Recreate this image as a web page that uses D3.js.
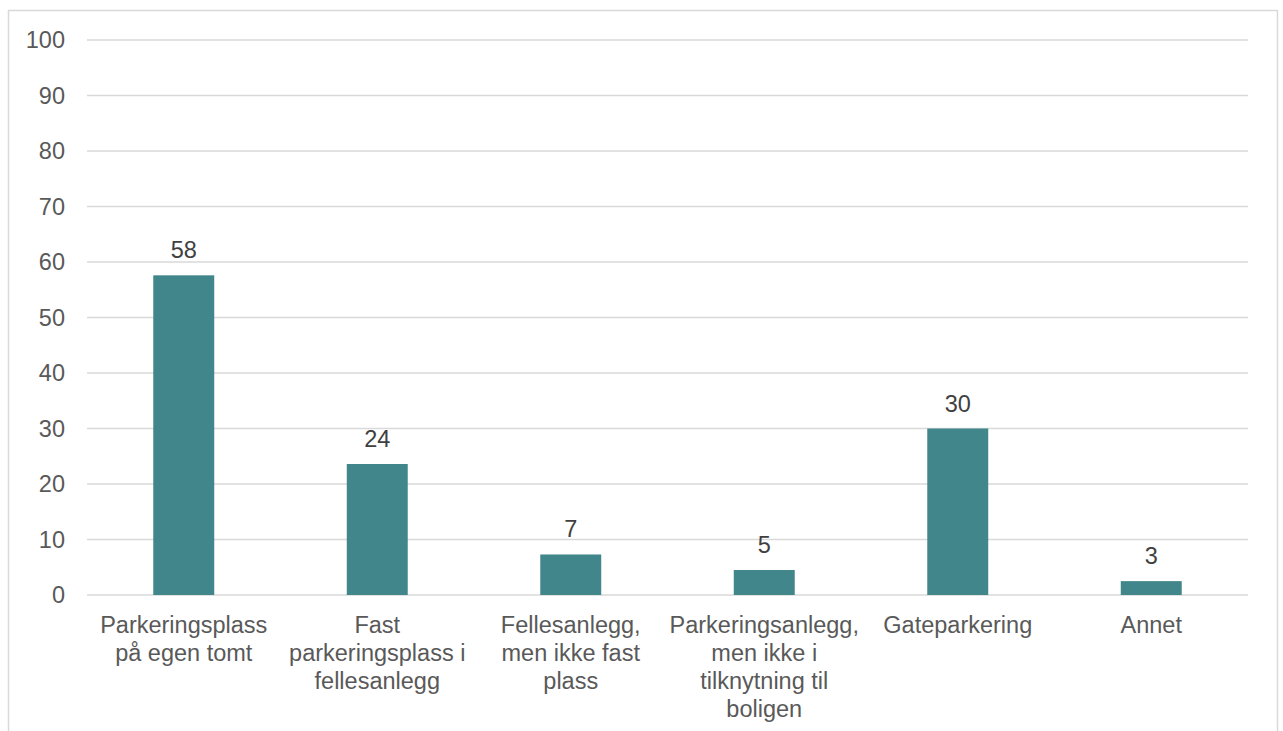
<!DOCTYPE html>
<html lang="no">

<head>
    <meta charset="UTF-8" />
    <title>Parkering</title>
    <style>
        body { margin: 0; background: #fff; }
        #container { width: 1283px; height: 731px; }
        text { font-family: "Liberation Sans", Arial, sans-serif; }
    </style>
</head>

<body>
    <div id="container"></div>
</body>
<script src="https://cdnjs.cloudflare.com/ajax/libs/d3/7.1.1/d3.min.js"></script>
<script>
    // data
    const categories = [
        ["Parkeringsplass", "på egen tomt"],
        ["Fast", "parkeringsplass i", "fellesanlegg"],
        ["Fellesanlegg,", "men ikke fast", "plass"],
        ["Parkeringsanlegg,", "men ikke i", "tilknytning til", "boligen"],
        ["Gateparkering"],
        ["Annet"]
    ];
    const values = [57.6, 23.6, 7.3, 4.5, 30.0, 2.5];
    const yTicks = [0, 10, 20, 30, 40, 50, 60, 70, 80, 90, 100];

    const W = 1283, H = 731;
    const m = { left: 87, right: 1248, top: 40, bottom: 595 };
    const fs = 23.5;

    const svg = d3.select("#container").append("svg").attr("width", W).attr("height", H);

    // frame
    svg.append("rect")
        .attr("x", 8.5).attr("y", 10.5)
        .attr("width", 1269).attr("height", 740)
        .attr("fill", "none").attr("stroke", "#d9d9d9").attr("stroke-width", 1.5);

    const y = d3.scaleLinear().domain([0, 100]).range([m.bottom, m.top]);
    const x = d3.scaleBand().domain(d3.range(categories.length)).range([m.left, m.right]);
    const barW = x.bandwidth() * 0.315;

    // grid
    svg.append("g").selectAll("line").data(yTicks).enter().append("line")
        .attr("x1", m.left).attr("x2", m.right)
        .attr("y1", d => y(d)).attr("y2", d => y(d))
        .attr("stroke", "#d9d9d9").attr("stroke-width", 1.5);

    // y axis labels
    svg.append("g").selectAll("text").data(yTicks).enter().append("text")
        .attr("x", 65).attr("y", d => y(d)).attr("dy", "0.35em")
        .attr("text-anchor", "end")
        .attr("font-size", fs).attr("fill", "#595959")
        .text(d => d);

    // bars
    const bar = svg.append("g").selectAll("g").data(values).enter().append("g")
        .attr("transform", (d, i) => `translate(${x(i) + x.bandwidth() / 2}, 0)`);

    bar.append("rect")
        .attr("x", -barW / 2)
        .attr("y", d => y(d))
        .attr("width", barW)
        .attr("height", d => y(0) - y(d))
        .attr("fill", "#41868a");

    bar.append("text")
        .attr("y", d => y(d) - 17)
        .attr("text-anchor", "middle")
        .attr("font-size", fs).attr("fill", "#404040")
        .text(d => Math.round(d));

    // category labels
    const cat = svg.append("g").selectAll("text").data(categories).enter().append("text")
        .attr("text-anchor", "middle")
        .attr("font-size", fs).attr("fill", "#595959")
        .attr("transform", (d, i) => `translate(${x(i) + x.bandwidth() / 2}, 633)`);
    cat.selectAll("tspan").data(d => d).enter().append("tspan")
        .attr("x", 0).attr("y", (d, i) => i * 28)
        .text(d => d);
</script>

</html>
